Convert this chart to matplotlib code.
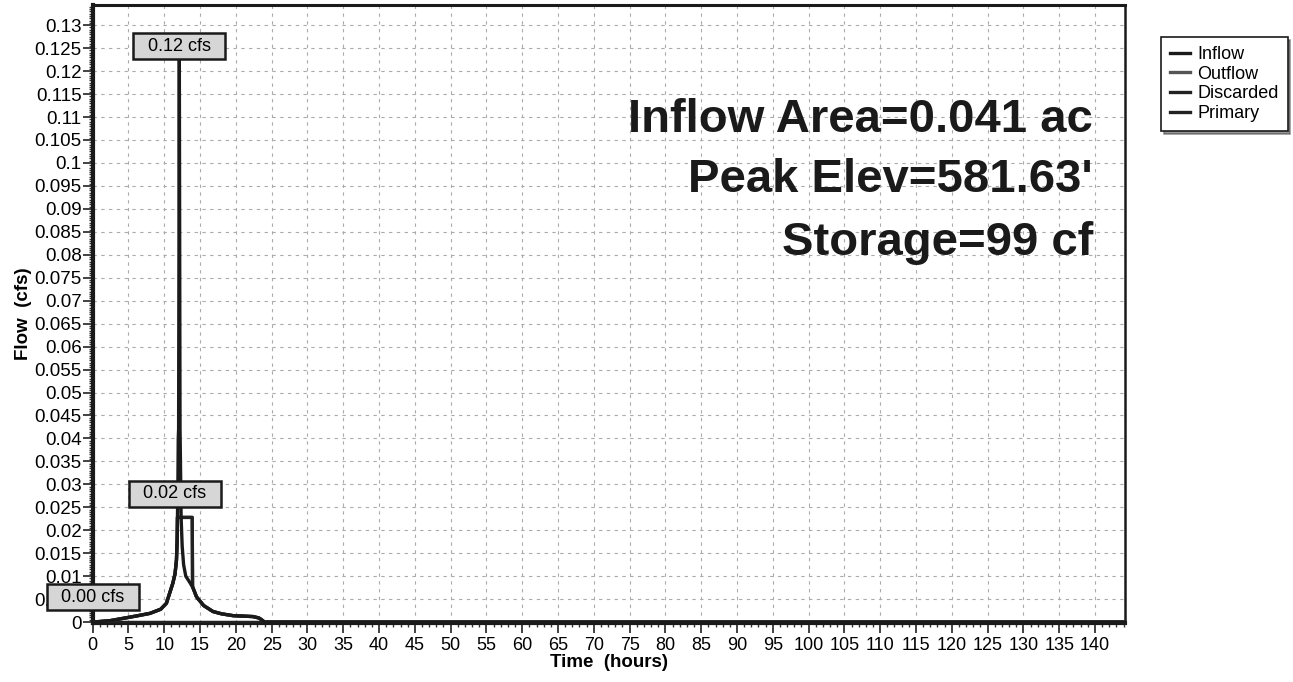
import numpy as np
import matplotlib
matplotlib.use('Agg')
import matplotlib.pyplot as plt
from matplotlib.ticker import MultipleLocator, FuncFormatter

plt.rcParams['font.family'] = ['Liberation Sans', 'DejaVu Sans']

# hydrograph readings (hours, cfs)
inflow_t = [0, 2.4, 4.2, 6, 8, 9.5, 10.3, 11.2, 11.5, 11.7, 11.8, 11.9, 11.95, 12.0,
            12.1, 12.2, 12.25, 12.35, 12.5, 12.7, 13.0, 13.5, 14.0, 14.5, 15.5, 16.8,
            18, 19.6, 21, 22.4, 23.2, 23.6, 24.0, 144]
inflow_q = [0, 0.0003, 0.0008, 0.0013, 0.0019, 0.0028, 0.0041, 0.0085, 0.0105, 0.0135,
            0.018, 0.030, 0.040, 0.042, 0.1228, 0.042, 0.036, 0.0228, 0.0165, 0.0125,
            0.0100, 0.0088, 0.0075, 0.0055, 0.0036, 0.0023, 0.0018, 0.0014, 0.0013,
            0.0012, 0.0009, 0.0005, 0.0, 0]

outflow_t = [0, 2.4, 4.2, 6, 8, 9.5, 10.3, 11.2, 11.5, 11.7, 11.8, 11.84, 13.9, 13.95,
             14.5, 15.5, 16.8, 18, 19.6, 21, 22.4, 23.2, 23.6, 24.0, 144]
outflow_q = [0, 0.0003, 0.0008, 0.0013, 0.0019, 0.0028, 0.0041, 0.0085, 0.0105, 0.0135,
             0.018, 0.0228, 0.0228, 0.0077, 0.0055, 0.0036, 0.0023, 0.0018, 0.0014,
             0.0013, 0.0012, 0.0009, 0.0005, 0.0, 0]

discarded_t = outflow_t
discarded_q = outflow_q

primary_t = [0, 144]
primary_q = [0, 0]

info_lines = ["Inflow Area=0.041 ac", "Peak Elev=581.63'", "Storage=99 cf"]

W, H = 1293, 682
fig = plt.figure(figsize=(W / 100, H / 100), dpi=100)
ax = fig.add_axes([92.7 / W, 1 - 623 / H, (1125 - 92.7) / W, 618 / H])

ax.plot(primary_t, primary_q, color='#222222', lw=2.4, label='Primary', zorder=3)
ax.plot(outflow_t, outflow_q, color='#555555', lw=2.4, label='Outflow', zorder=3)
ax.plot(discarded_t, discarded_q, color='#222222', lw=2.4, label='Discarded', zorder=4)
ax.plot(inflow_t, inflow_q, color='#1a1a1a', lw=2.4, label='Inflow', zorder=5)

ax.set_xlim(0, 144.2)
ax.set_ylim(-0.0002, 0.1344)

ax.xaxis.set_major_locator(MultipleLocator(5))
ax.xaxis.set_minor_locator(MultipleLocator(1))
ax.yaxis.set_major_locator(MultipleLocator(0.005))
ax.yaxis.set_minor_locator(MultipleLocator(0.0005))
ax.yaxis.set_major_formatter(FuncFormatter(lambda v, p: '0' if abs(v) < 1e-9 else ('%.3f' % v).rstrip('0')))
ax.xaxis.set_major_formatter(FuncFormatter(lambda v, p: '%d' % round(v)))

ax.tick_params(axis='both', which='major', direction='out', length=7, width=1.2, color='#222222', pad=1)
ax.tick_params(axis='both', which='minor', direction='out', length=3, width=1.0, color='#333333')
ax.tick_params(axis='y', labelsize=13.5)
ax.tick_params(axis='x', labelsize=13, pad=3)

ax.grid(True, which='major', color='#ababab', lw=0.8, linestyle=(0, (3, 4)))

for side, w in [('left', 3.0), ('bottom', 3.0), ('top', 2.2), ('right', 1.8)]:
    ax.spines[side].set_linewidth(w)
    ax.spines[side].set_color('#1a1a1a')

ax.set_xlabel('Time  (hours)', fontsize=13.5, fontweight='bold', labelpad=0)
ax.set_ylabel('Flow  (cfs)', fontsize=13.5, fontweight='bold', labelpad=2)

box = dict(boxstyle='square,pad=0.25', fc='#d6d6d6', ec='#1a1a1a', lw=1.8)
ipk = int(np.argmax(inflow_q))
ax.annotate('  %.2f cfs  ' % inflow_q[ipk], xy=(inflow_t[ipk], inflow_q[ipk]), xytext=(0, 8.6),
            textcoords='offset points', ha='center', va='center', fontsize=13, bbox=box, zorder=6)
opk = int(np.argmax(outflow_q))
ax.annotate('  %.2f cfs  ' % outflow_q[opk], xy=(outflow_t[opk], outflow_q[opk]), xytext=(-2, 17),
            textcoords='offset points', ha='center', va='center', fontsize=13, bbox=box, zorder=6)
ax.annotate('  %.2f cfs  ' % max(primary_q), xy=(primary_t[0], max(primary_q)), xytext=(0, 18),
            textcoords='offset points', ha='center', va='center', fontsize=13, bbox=box, zorder=6,
            annotation_clip=False)

for i, (s, yb) in enumerate(zip(info_lines, [132, 192, 255])):
    fig.text(1093 / W, 1 - yb / H, s, ha='right', va='baseline',
             fontsize=34, fontweight='bold', color='#1a1a1a')

handles, labels = ax.get_legend_handles_labels()
order = ['Inflow', 'Outflow', 'Discarded', 'Primary']
hmap = dict(zip(labels, handles))
leg = fig.legend([hmap[k] for k in order], order, loc='upper left',
                 bbox_to_anchor=(1161 / W, 1 - 37 / H), fontsize=13, frameon=True,
                 fancybox=False, shadow={'color': '#333333'}, handlelength=1.1,
                 handletextpad=0.4, labelspacing=0.15, borderpad=0.5, borderaxespad=0)
leg.get_frame().set_edgecolor('#1a1a1a')
leg.get_frame().set_linewidth(1.2)

fig.savefig('out.png', dpi=100)
